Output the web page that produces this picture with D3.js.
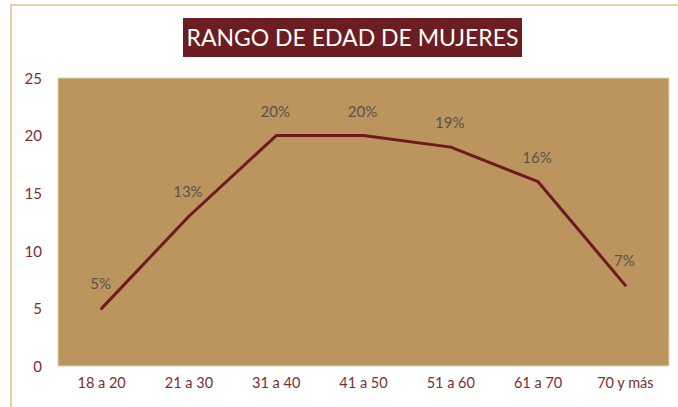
<!DOCTYPE html>
<html>
<head>
<meta charset="utf-8">
<script src="https://cdn.jsdelivr.net/npm/d3@7"></script>
<style>
  body { margin: 0; background: #fff; }
  svg { display: block; font-family: Lato, "Open Sans", sans-serif; }
</style>
</head>
<body>
<svg></svg>
<script>
var width = 678;
var height = 407;

var categories = ['18 a 20', '21 a 30', '31 a 40', '41 a 50', '51 a 60', '61 a 70', '70 y más'];
var values = [5, 13, 20, 20, 19, 16, 7];
var labels = ['5%', '13%', '20%', '20%', '19%', '16%', '7%'];
var yTicks = [0, 5, 10, 15, 20, 25];

var plot = { left: 58, right: 669, top: 78, bottom: 366 };

var svg = d3.select('svg')
    .attr('width', width)
    .attr('height', height);

// outer frame (only top and left edges are visible)
svg.append('path')
    .attr('d', `M11,${height + 2} L11,5 L${width + 2},5`)
    .attr('fill', 'none')
    .attr('stroke', '#E6D2AE')
    .attr('stroke-width', 2);

// title box
svg.append('rect')
    .attr('x', 183)
    .attr('y', 18)
    .attr('width', 339)
    .attr('height', 39)
    .attr('fill', '#6B1D21');

svg.append('text')
    .attr('x', 352.5)
    .attr('y', 46)
    .attr('text-anchor', 'middle')
    .attr('fill', '#fff')
    .style('font-size', '23px')
    .text('RANGO DE EDAD DE MUJERES');

var xScale = d3.scaleBand()
    .domain(categories)
    .range([plot.left, plot.right]);

var yScale = d3.scaleLinear()
    .domain([0, 25])
    .range([plot.bottom, plot.top]);

// plot area
svg.append('rect')
    .attr('x', plot.left)
    .attr('y', plot.top)
    .attr('width', plot.right - plot.left)
    .attr('height', plot.bottom - plot.top)
    .attr('fill', '#BC945D')
    .attr('stroke', '#E3D3B8')
    .attr('stroke-width', 1);

var yAxis = d3.axisLeft(yScale)
    .tickValues(yTicks)
    .tickSize(0)
    .tickPadding(0);

svg.append('g')
    .attr('transform', 'translate(42,0)')
    .call(yAxis)
    .call(g => g.select('.domain').remove())
    .selectAll('text')
      .attr('fill', '#7A2E33')
      .attr('dy', '0.35em')
      .style('font-family', 'Lato, "Open Sans", sans-serif')
      .style('font-size', '15px');

var xAxis = d3.axisBottom(xScale)
    .tickSize(0)
    .tickPadding(0);

svg.append('g')
    .attr('transform', 'translate(0,378)')
    .call(xAxis)
    .call(g => g.select('.domain').remove())
    .selectAll('text')
      .attr('fill', '#7A2E33')
      .attr('dy', '0.71em')
      .style('font-family', 'Lato, "Open Sans", sans-serif')
      .style('font-size', '14.5px');

var line = d3.line()
    .x((d, i) => xScale(categories[i]) + xScale.bandwidth() / 2)
    .y(d => yScale(d));

svg.append('path')
    .datum(values)
    .attr('d', line)
    .attr('fill', 'none')
    .attr('stroke', '#6E1A1F')
    .attr('stroke-width', 3)
    .attr('stroke-linejoin', 'round')
    .attr('stroke-linecap', 'round');

svg.append('g')
  .selectAll('text')
    .data(values)
    .enter()
    .append('text')
      .attr('x', (d, i) => xScale(categories[i]) + xScale.bandwidth() / 2 - 1)
      .attr('y', d => yScale(d) - 19)
      .attr('text-anchor', 'middle')
      .attr('fill', '#58534A')
      .style('font-size', '15px')
      .text((d, i) => labels[i]);
</script>
</body>
</html>
